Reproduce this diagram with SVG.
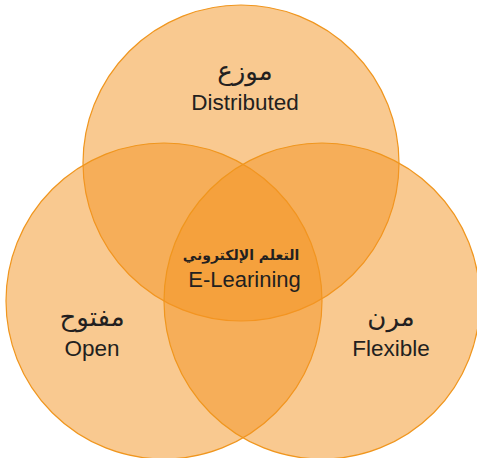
<svg xmlns="http://www.w3.org/2000/svg" width="477" height="458" viewBox="0 0 477 458">
<style>
.c{fill:#F39322;fill-opacity:0.5;stroke:#F0961E;stroke-width:1.2}
.en{font-family:"Liberation Sans",Arial,sans-serif;fill:#231F20;text-anchor:middle}
.ar{font-family:"DejaVu Sans","Noto Sans",sans-serif;fill:#231F20;text-anchor:middle}
</style>
<rect width="477" height="458" fill="#FFFFFF"/>
<g id="distributed">
<circle class="c" cx="241" cy="163" r="158"/>
</g>
<g id="open">
<circle class="c" cx="164" cy="301" r="158"/>
</g>
<g id="flexible">
<circle class="c" cx="322" cy="301" r="158"/>
</g>
<g id="labels-distributed">
<text class="ar" x="245" y="80" font-size="26" direction="rtl">موزع</text>
<text class="en" x="245" y="110" font-size="22.5">Distributed</text>
</g>
<g id="labels-open">
<text class="ar" x="92" y="326" font-size="26" direction="rtl">مفتوح</text>
<text class="en" x="92" y="356" font-size="22.5">Open</text>
</g>
<g id="labels-flexible">
<text class="ar" x="391" y="326" font-size="26" direction="rtl">مرن</text>
<text class="en" x="391" y="356" font-size="22.5">Flexible</text>
</g>
<g id="elearning">
<text class="ar" x="241" y="260" font-size="14" font-weight="bold" direction="rtl">التعلم الإلكتروني</text>
<text class="en" x="244.5" y="287" font-size="22">E-Learining</text>
</g>
</svg>
